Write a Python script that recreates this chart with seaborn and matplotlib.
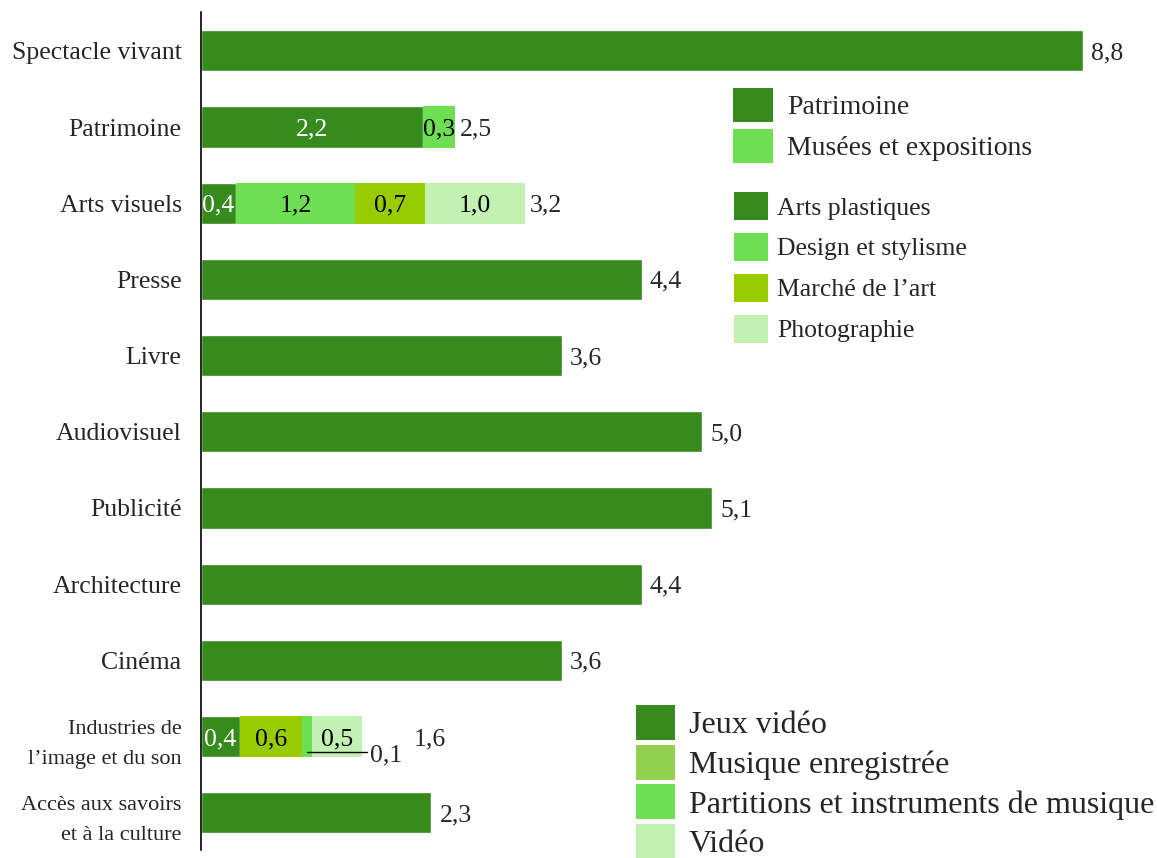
import numpy as np
import pandas as pd
import matplotlib
matplotlib.use("Agg")
import matplotlib.pyplot as plt
import seaborn as sns
from matplotlib.patches import Patch

# Data
categories = ["Spectacle vivant", "Patrimoine", "Arts visuels", "Presse", "Livre",
              "Audiovisuel", "Publicité", "Architecture", "Cinéma",
              "Industries de\nl’image et du son", "Accès aux savoirs\net à la culture"]
totals = [8.8, 2.5, 3.2, 4.4, 3.6, 5.0, 5.1, 4.4, 3.6, 1.6, 2.3]
total_labels = ["8,8", "2,5", "3,2", "4,4", "3,6", "5,0", "5,1", "4,4", "3,6", "1,6", "2,3"]

# segment values (unrounded estimates) and their printed labels
patrimoine_parts = [2.22, 0.31]
patrimoine_labels = ["2,2", "0,3"]
arts_visuels_parts = [0.35, 1.19, 0.70, 0.99]
arts_visuels_labels = ["0,4", "1,2", "0,7", "1,0"]
image_son_parts = [0.39, 0.62, 0.10, 0.50]
image_son_labels = ["0,4", "0,6", "0,1", "0,5"]

legend_patrimoine = ["Patrimoine", "Musées et expositions"]
legend_arts = ["Arts plastiques", "Design et stylisme", "Marché de l’art", "Photographie"]
legend_image = ["Jeux vidéo", "Musique enregistrée", "Partitions et instruments de musique", "Vidéo"]

DARK = "#368a1e"
LIGHT = "#6ede52"
OLIVE = "#99cc00"
PALE = "#c3f0b3"
MUSIC = "#92d050"

sns.set_style("white")
plt.rcParams["font.family"] = ["Liberation Serif", "DejaVu Serif"]

fig = plt.figure(figsize=(11.57, 8.58), dpi=100)
ax = fig.add_axes([201 / 1157, 8 / 858, 956 / 1157, 838 / 858])

stacks = {1: (patrimoine_parts, patrimoine_labels, [DARK, LIGHT]),
          2: (arts_visuels_parts, arts_visuels_labels, [DARK, LIGHT, OLIVE, PALE]),
          9: (image_son_parts, image_son_labels, [DARK, OLIVE, LIGHT, PALE])}

# first segment of every bar via seaborn
first = list(totals)
for i, (parts, _, _) in stacks.items():
    first[i] = parts[0]
df = pd.DataFrame({"cat": categories, "val": first})
sns.barplot(data=df, y="cat", x="val", order=categories, orient="h",
            color=DARK, saturation=1, width=0.54, ax=ax)

# remaining stacked segments
for i, (parts, _, cols) in stacks.items():
    left = np.cumsum([0] + parts[:-1])
    for p, l, c in zip(parts[1:], left[1:], cols[1:]):
        ax.barh(i, p, left=l, height=0.54, color=c, linewidth=0)

fs = 18.5
# segment labels
for i, (parts, labs, cols) in stacks.items():
    left = np.cumsum([0] + parts[:-1])
    for j, (p, l, c, txt) in enumerate(zip(parts, left, cols, labs)):
        if i == 9 and j == 2:
            # tiny segment: label moved outside with a leader line
            ax.plot([l + p / 2, l + p + 0.55], [i + 0.21, i + 0.21], color="black", lw=1)
            ax.text(l + p + 0.58, i + 0.22, txt, ha="left", va="center_baseline", fontsize=fs)
            continue
        tc = "white" if c == DARK else "black"
        ax.text(l + p / 2, i, txt, ha="center", va="center_baseline", fontsize=fs, color=tc)

# totals
for i, (t, lab) in enumerate(zip(totals, total_labels)):
    x = t + 0.08
    if i == 9:
        x = 2.12
    ax.text(x, i, lab, ha="left", va="center_baseline", fontsize=fs)

ax.set_xlim(0, 9.54)
ax.set_ylim(10.49, -0.51)
ax.set_xlabel("")
ax.set_ylabel("")
ax.set_xticks([])
ax.tick_params(axis="y", length=0, pad=14)
for k, lab in enumerate(ax.get_yticklabels()):
    if k in (9, 10):
        lab.set_fontsize(16)
        lab.set_linespacing(1.8)
    else:
        lab.set_fontsize(fs)
for s in ["top", "right", "bottom"]:
    ax.spines[s].set_visible(False)
ax.spines["left"].set_color("black")
ax.spines["left"].set_linewidth(1.2)


def add_legend(labels, colors, x, y, size, hl, hh, sp, tp):
    h = [Patch(facecolor=c, edgecolor="none") for c in colors]
    return fig.legend(h, labels, loc="upper left", bbox_to_anchor=(x / 1157, 1 - y / 858),
                      frameon=False, fontsize=size, handlelength=hl, handleheight=hh,
                      labelspacing=sp, handletextpad=tp, borderpad=0, borderaxespad=0)


add_legend(legend_patrimoine, [DARK, LIGHT], 733, 88, 20, 1.44, 1.5, 0.25, 0.5)
add_legend(legend_arts, [DARK, LIGHT, OLIVE, PALE], 734, 192, 18.5, 1.32, 1.3, 0.5, 0.35)
add_legend(legend_image, [DARK, MUSIC, LIGHT, PALE], 636, 705, 23, 1.22, 1.31, 0.14, 0.44)

fig.savefig("out.png", dpi=100)
